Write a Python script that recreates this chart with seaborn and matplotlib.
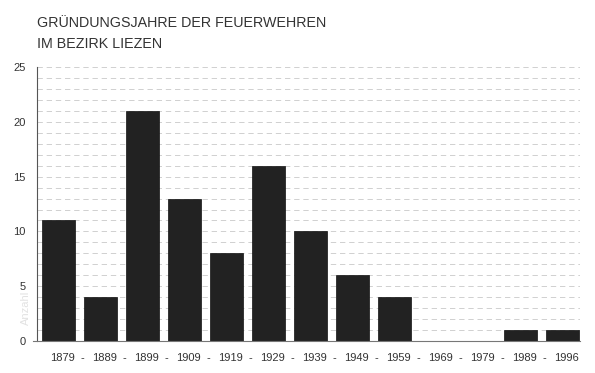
import pandas as pd
import matplotlib.pyplot as plt
import matplotlib.transforms as mtransforms
import seaborn as sns

# Data
jahre = ['1879', '1889', '1899', '1909', '1919', '1929', '1939',
         '1949', '1959', '1969', '1979', '1989', '1996']
anzahl = [11, 4, 21, 13, 8, 16, 10, 6, 4, 0, 0, 1, 1]
titel_1 = 'GRÜNDUNGSJAHRE DER FEUERWEHREN'
titel_2 = 'IM BEZIRK LIEZEN'

df = pd.DataFrame({'jahr': jahre, 'anzahl': anzahl})

sns.set_style('white')
plt.rcParams['font.family'] = ['Liberation Sans', 'DejaVu Sans']

fig = plt.figure(figsize=(5.95, 3.73), dpi=100)
ax = fig.add_axes([0.0622, 0.0858, 0.9128, 0.7342])

# dashed grid at every unit
for v in range(1, 26):
    ax.axhline(v, color='#c4c4c4', lw=0.55, ls=(0, (7, 5)), zorder=0)

sns.barplot(data=df, x='jahr', y='anzahl', color='#222222', width=0.78,
            saturation=1, edgecolor='#111111', linewidth=0.5, ax=ax, zorder=2)

ax.set_xlim(-0.512, 12.42)
ax.set_ylim(0, 25)
ax.set_yticks(range(0, 26, 5))

for s in ['top', 'right']:
    ax.spines[s].set_visible(False)
ax.spines['left'].set_color('#555555')
ax.spines['left'].set_linewidth(0.8)
ax.spines['bottom'].set_color('#777777')
ax.spines['bottom'].set_linewidth(0.8)
ax.spines['bottom'].set_bounds(-0.6, 12.42)
ax.spines['bottom'].set_zorder(3)

ax.tick_params(axis='y', direction='inout', length=8, width=1.0, color='#333333',
               labelsize=8, labelcolor='#333333', pad=4)
ax.tick_params(axis='x', which='major', length=0, labelsize=8,
               labelcolor='#333333', pad=9)
ax.set_xticks([i + 0.5 for i in range(12)], minor=True)
ax.tick_params(axis='x', which='minor', direction='inout', length=7, width=0.7,
               color='#777777')

# year labels sit a little to the right of the bar centres
shift = mtransforms.ScaledTranslation(4 / 100, 0, fig.dpi_scale_trans)
for lab in ax.get_xticklabels():
    lab.set_transform(lab.get_transform() + shift)

# dashes between the years
trans = mtransforms.blended_transform_factory(ax.transData, ax.transAxes)
for i in range(12):
    ax.text(i + 0.56, -0.063, '-', transform=trans, ha='center', va='center',
            fontsize=8, color='#333333')

ax.set_xlabel('')
ax.set_ylabel('Anzahl', color='#e2e2e2', fontsize=8, labelpad=-2)
ax.yaxis.set_label_coords(-0.012, 0.12)

fig.text(0.062, 1 - 27 / 373, titel_1, ha='left', va='baseline', fontsize=10.3,
         color='#333333')
fig.text(0.062, 1 - 48 / 373, titel_2, ha='left', va='baseline', fontsize=10.3,
         color='#333333')

plt.savefig('out.png', dpi=100)
